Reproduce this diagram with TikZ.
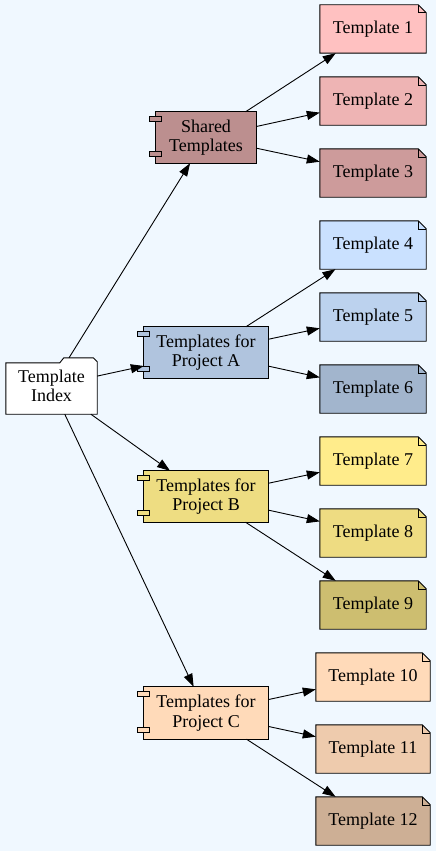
\documentclass[tikz,border=0pt]{standalone}
\usepackage{fontspec}
\setmainfont{Liberation Serif}
\usetikzlibrary{arrows.meta}
\definecolor{bgc}{HTML}{F0F8FF}
\definecolor{rbase}{HTML}{BC8F8F}
\definecolor{ra}{HTML}{FFC1C1}
\definecolor{rb}{HTML}{EEB4B4}
\definecolor{rc}{HTML}{CD9B9B}
\definecolor{sbase}{HTML}{B0C4DE}
\definecolor{sa}{HTML}{CAE1FF}
\definecolor{sb}{HTML}{BCD2EE}
\definecolor{sc}{HTML}{A2B5CD}
\definecolor{gbase}{HTML}{EEDD82}
\definecolor{ga}{HTML}{FFEC8B}
\definecolor{gb}{HTML}{EEDC82}
\definecolor{gc}{HTML}{CDBE70}
\definecolor{pbase}{HTML}{FFDAB9}
\definecolor{pa}{HTML}{FFDAB9}
\definecolor{pb}{HTML}{EECBAD}
\definecolor{pc}{HTML}{CDAF95}
\pgfdeclarelayer{bg}
\pgfsetlayers{bg,main}
\begin{document}
\begin{tikzpicture}[x=1pt,y=-1pt,
  font=\fontsize{18}{19.5}\selectfont,
  box/.style={inner sep=0pt, align=center},
  comp/.style={box, minimum width=124pt, minimum height=51pt},
  notebox/.style={box, minimum width=106pt, minimum height=48pt},
  widenote/.style={box, minimum width=114pt, minimum height=48pt},
  shapeline/.style={draw=black, line width=0.9pt},
  arr/.style={line width=0.9pt, -{Triangle[length=13pt,width=9pt]}}]
\useasboundingbox (0,0) rectangle (436,851);
% nodes
\node[box, minimum width=91pt, minimum height=56pt] (idx) at (51.5,386) {Template\\Index};
\node[box, minimum width=100pt, minimum height=51pt] (sh) at (206,137.5) {Shared\\Templates};
\node[comp] (pa) at (206,352.5) {Templates for\\Project A};
\node[comp] (pb) at (206,496.5) {Templates for\\Project B};
\node[comp, minimum height=52pt] (pc) at (206,713) {Templates for\\Project C};
\node[notebox] (t1) at (373,29) {Template 1};
\node[notebox] (t2) at (373,101) {Template 2};
\node[notebox] (t3) at (373,173) {Template 3};
\node[notebox] (t4) at (373,245) {Template 4};
\node[notebox] (t5) at (373,317) {Template 5};
\node[notebox] (t6) at (373,389) {Template 6};
\node[notebox] (t7) at (373,461) {Template 7};
\node[notebox] (t8) at (373,533) {Template 8};
\node[notebox] (t9) at (373,605) {Template 9};
\node[widenote] (t10) at (373,677) {Template 10};
\node[widenote] (t11) at (373,749) {Template 11};
\node[widenote] (t12) at (373,821) {Template 12};
% shapes behind the text
\begin{pgfonlayer}{bg}
\fill[bgc] (0,0) rectangle (436,851);
\draw[shapeline, fill=white] ([yshift=-5pt]idx.north west) -- ([xshift=54pt,yshift=-5pt]idx.north west) -- ([xshift=58pt]idx.north west) -- ([xshift=-4pt]idx.north east) -- ([yshift=-4pt]idx.north east) -- (idx.south east) -- (idx.south west) -- cycle;
\foreach \n/\c in {sh/rbase, pa/sbase, pb/gbase, pc/pbase} {
  \draw[shapeline, fill=\c] (\n.south west) rectangle (\n.north east);
  \draw[shapeline, fill=\c] ([xshift=-6pt,yshift=-5pt]\n.north west) rectangle ([xshift=6pt,yshift=-10pt]\n.north west);
  \draw[shapeline, fill=\c] ([xshift=-6pt,yshift=7pt]\n.south west) rectangle ([xshift=6pt,yshift=12pt]\n.south west);
}
\foreach \n/\c in {t1/ra, t2/rb, t3/rc, t4/sa, t5/sb, t6/sc, t7/ga, t8/gb, t9/gc, t10/pa, t11/pb, t12/pc} {
  \draw[shapeline, fill=\c] (\n.south west) -- (\n.north west) -- ([xshift=-8pt]\n.north east) -- ([yshift=-8pt]\n.north east) -- (\n.south east) -- cycle;
  \draw[line width=0.6pt] ([xshift=-8pt]\n.north east) -- ([xshift=-8pt,yshift=-8pt]\n.north east) -- ([yshift=-8pt]\n.north east);
}
\end{pgfonlayer}
% edges
\draw[arr] (idx) -- (sh);
\draw[arr] (idx) -- (pa);
\draw[arr] (idx) -- (pb);
\draw[arr] (idx) -- (pc);
\draw[arr] (sh) -- (t1);
\draw[arr] (sh) -- (t2);
\draw[arr] (sh) -- (t3);
\draw[arr] (pa) -- (t4);
\draw[arr] (pa) -- (t5);
\draw[arr] (pa) -- (t6);
\draw[arr] (pb) -- (t7);
\draw[arr] (pb) -- (t8);
\draw[arr] (pb) -- (t9);
\draw[arr] (pc) -- (t10);
\draw[arr] (pc) -- (t11);
\draw[arr] (pc) -- (t12);
\end{tikzpicture}
\end{document}
